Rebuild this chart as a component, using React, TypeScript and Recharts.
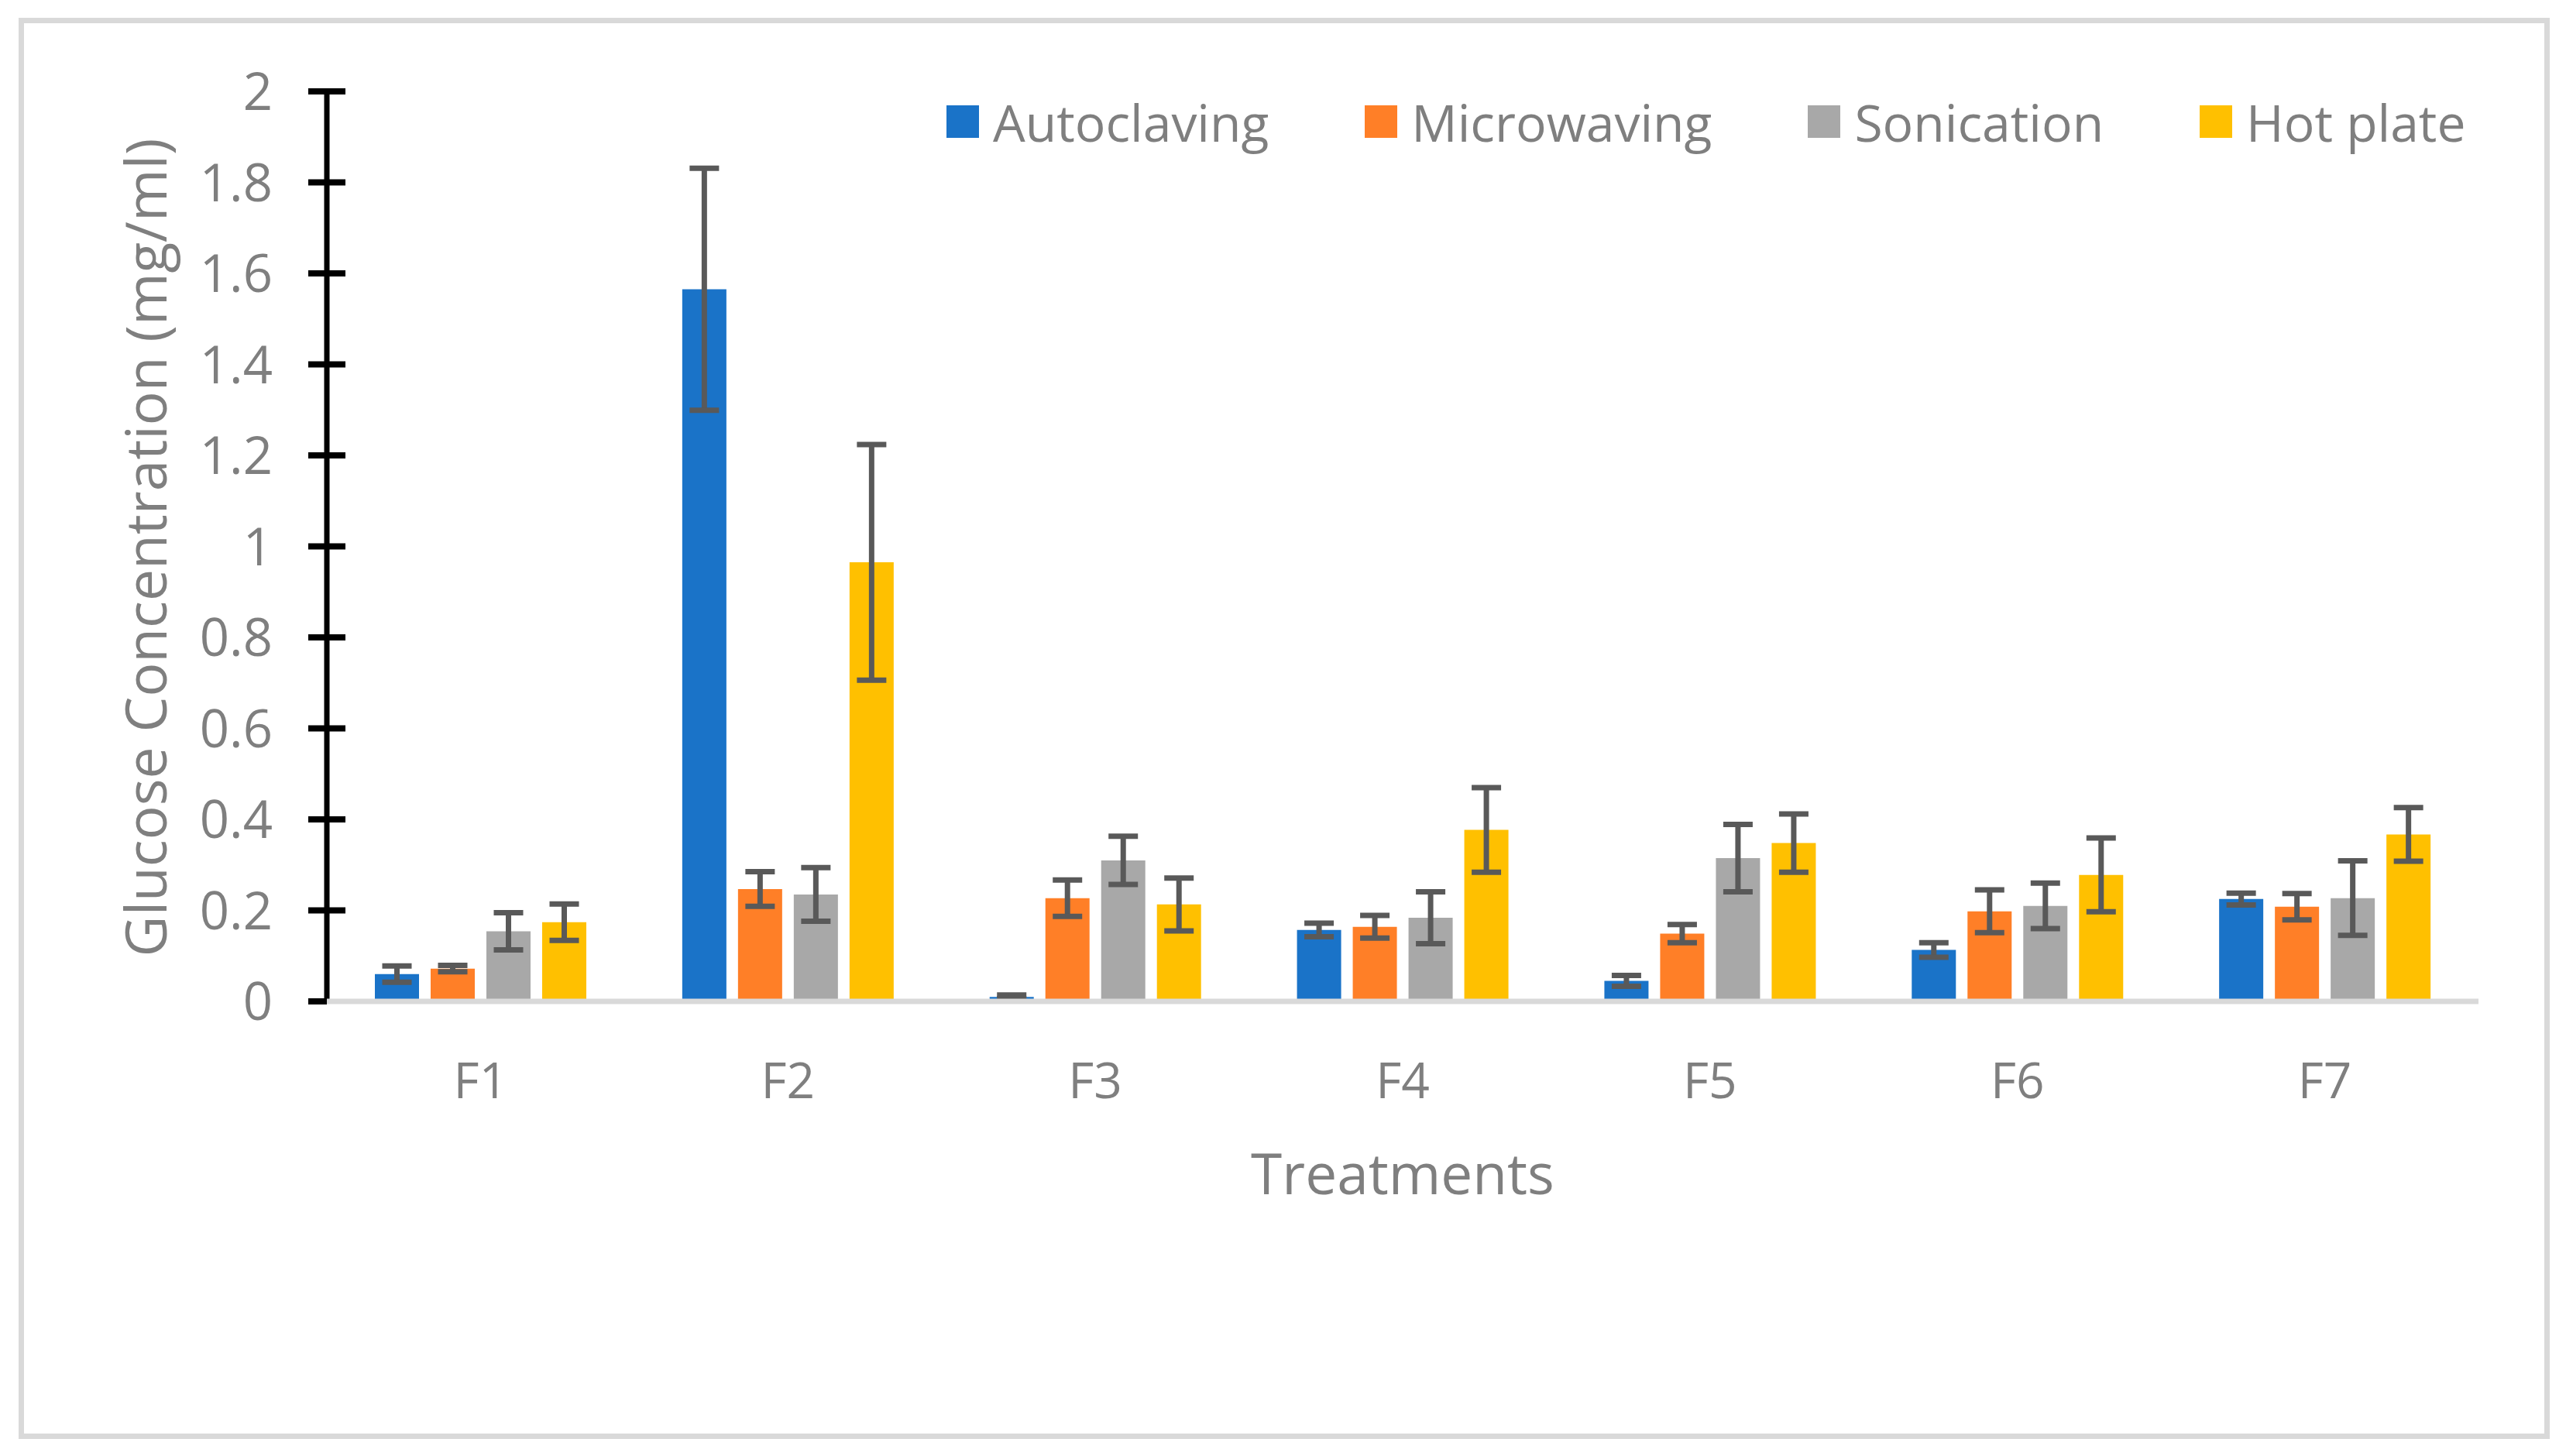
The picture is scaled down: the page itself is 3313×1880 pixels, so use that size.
import { Bar, BarChart, ErrorBar, XAxis, YAxis } from "recharts";

const categories = ["F1", "F2", "F3", "F4", "F5", "F6", "F7"];

const autoclaving = [0.06, 1.565, 0.01, 0.157, 0.045, 0.113, 0.225];
const autoclavingErr = [0.018, 0.266, 0.004, 0.015, 0.012, 0.016, 0.013];
const microwaving = [0.072, 0.247, 0.227, 0.164, 0.149, 0.198, 0.208];
const microwavingErr = [0.007, 0.038, 0.04, 0.025, 0.02, 0.047, 0.029];
const sonication = [0.154, 0.235, 0.31, 0.184, 0.315, 0.21, 0.227];
const sonicationErr = [0.041, 0.059, 0.053, 0.057, 0.074, 0.05, 0.082];
const hotPlate = [0.174, 0.965, 0.213, 0.377, 0.348, 0.278, 0.367];
const hotPlateErr = [0.04, 0.259, 0.058, 0.093, 0.064, 0.081, 0.059];

const yTicks = [0, 0.2, 0.4, 0.6, 0.8, 1, 1.2, 1.4, 1.6, 1.8, 2];

const SERIES = [
  { key: "autoclaving", name: "Autoclaving", color: "#1a73c8" },
  { key: "microwaving", name: "Microwaving", color: "#ff7f27" },
  { key: "sonication", name: "Sonication", color: "#a8a8a8" },
  { key: "hotPlate", name: "Hot plate", color: "#ffc000" },
];

const FONT = "'Open Sans', 'Noto Sans', sans-serif";
const TEXT_GRAY = "#7f7f7f";

const rows = categories.map((name, i) => ({
  name,
  autoclaving: autoclaving[i],
  autoclavingErr: autoclavingErr[i],
  microwaving: microwaving[i],
  microwavingErr: microwavingErr[i],
  sonication: sonication[i],
  sonicationErr: sonicationErr[i],
  hotPlate: hotPlate[i],
  hotPlateErr: hotPlateErr[i],
}));

function YTick({ x, y, payload }: any) {
  const isZero = payload.value === 0;
  return (
    <g>
      <line
        x1={x - 24}
        x2={isZero ? x : x + 24}
        y1={y}
        y2={y}
        stroke="#000"
        strokeWidth={8}
      />
      <text
        x={x - 70}
        y={y}
        dy="0.36em"
        textAnchor="end"
        fill={TEXT_GRAY}
        fontSize={67}
        fontFamily={FONT}
      >
        {String(payload.value)}
      </text>
    </g>
  );
}

function XTick({ x, y, payload }: any) {
  return (
    <text
      x={x}
      y={y + 125}
      textAnchor="middle"
      fill={TEXT_GRAY}
      fontSize={64}
      fontFamily={FONT}
    >
      {payload.value}
    </text>
  );
}

export default function App() {
  return (
    <div
      style={{
        position: "absolute",
        left: 0,
        top: 0,
        width: 3313,
        height: 1880,
        background: "#fff",
        fontFamily: FONT,
      }}
    >
      <div
        style={{
          position: "absolute",
          left: 24,
          top: 23,
          width: 3268,
          height: 1835,
          border: "7px solid #d9d9d9",
          boxSizing: "border-box",
        }}
      />

      <BarChart
        width={3313}
        height={1880}
        data={rows}
        margin={{ top: 118, right: 113, bottom: 437, left: 122 }}
        barSize={57}
        barGap={15}
        style={{ position: "absolute", left: 0, top: 0 }}
      >
        <YAxis
          domain={[0, 2]}
          ticks={yTicks}
          interval={0}
          width={300}
          tickSize={0}
          tickMargin={0}
          tickLine={false}
          axisLine={{ stroke: "#000", strokeWidth: 7 }}
          tick={<YTick />}
        />
        {SERIES.map((s) => (
          <Bar
            key={s.key}
            dataKey={s.key}
            name={s.name}
            fill={s.color}
            isAnimationActive={false}
          >
            <ErrorBar
              dataKey={`${s.key}Err`}
              direction="y"
              width={19}
              stroke="#595959"
              strokeWidth={7}
              isAnimationActive={false}
            />
          </Bar>
        ))}
        <XAxis
          dataKey="name"
          height={150}
          tickSize={0}
          tickMargin={0}
          tickLine={false}
          axisLine={{ stroke: "#d9d9d9", strokeWidth: 7 }}
          tick={<XTick />}
        />
      </BarChart>

      <div
        style={{
          position: "absolute",
          left: 186,
          top: 707,
          transform: "translate(-50%, -50%) rotate(-90deg)",
          whiteSpace: "nowrap",
          fontSize: 73,
          color: TEXT_GRAY,
          lineHeight: 1,
        }}
      >
        Glucose Concentration (mg/ml)
      </div>

      <div
        style={{
          position: "absolute",
          left: 1811,
          top: 1513,
          transform: "translate(-50%, -50%)",
          whiteSpace: "nowrap",
          fontSize: 73,
          color: TEXT_GRAY,
          lineHeight: 1,
        }}
      >
        Treatments
      </div>

      <div
        style={{
          position: "absolute",
          left: 1222,
          top: 157,
          transform: "translateY(-50%)",
          display: "flex",
          alignItems: "center",
          gap: 124,
          whiteSpace: "nowrap",
        }}
      >
        {SERIES.map((s) => (
          <div key={s.key} style={{ display: "flex", alignItems: "center" }}>
            <span
              style={{
                display: "inline-block",
                width: 42,
                height: 42,
                background: s.color,
                marginRight: 18,
              }}
            />
            <span style={{ fontSize: 66, color: TEXT_GRAY, lineHeight: 1 }}>
              {s.name}
            </span>
          </div>
        ))}
      </div>
    </div>
  );
}
